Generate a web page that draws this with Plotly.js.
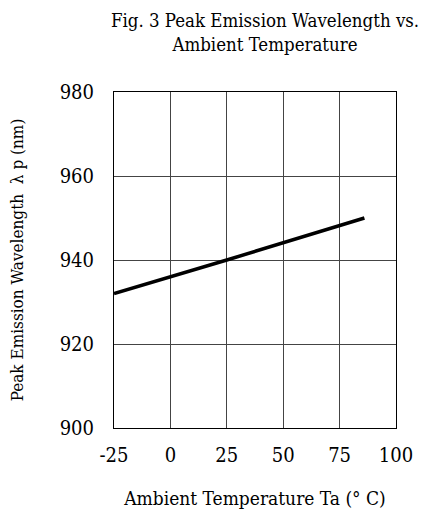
<!DOCTYPE html>
<html><head><meta charset="utf-8">
<script src="https://cdn.plot.ly/plotly-3.0.1.min.js"></script>
<style>html,body{margin:0;padding:0;background:#fff;}#chart{width:422px;height:515px;}</style>
</head><body><div id="chart"></div>
<script>
// Data
const temperatureC = [-25, 25, 86];
const peakWavelengthNm = [932, 940, 950];
const xTickVals = [-25, 0, 25, 50, 75, 100];
const yTickVals = [900, 920, 940, 960, 980];

const FONT = '"DejaVu Serif Condensed", "DejaVu Serif", serif';

const trace = {
  x: temperatureC, y: peakWavelengthNm, type: 'scatter', mode: 'lines',
  line: {color: '#000', width: 3.5}, hoverinfo: 'skip'
};

const layout = {
  width: 422, height: 515,
  margin: {l: 114, r: 26, t: 92, b: 87},
  paper_bgcolor: '#fff', plot_bgcolor: '#fff',
  showlegend: false,
  font: {family: FONT, color: '#000', size: 20},
  title: {
    text: 'Fig. 3 Peak Emission Wavelength vs.<br>Ambient Temperature',
    font: {family: FONT, size: 18.5, color: '#000'},
    x: 265/422, xref: 'container', xanchor: 'center',
    y: 1 - 27/515, yref: 'container', yanchor: 'middle'
  },
  xaxis: {
    range: [-25, 100], tickvals: xTickVals, ticktext: xTickVals.map(String),
    showgrid: true, gridcolor: '#444', gridwidth: 1,
    showline: true, linecolor: '#000', linewidth: 1, mirror: true,
    zeroline: false, ticks: 'outside', ticklen: 9, tickcolor: 'rgba(0,0,0,0)',
    tickfont: {family: FONT, size: 20, color: '#000'},
    title: {text: 'Ambient Temperature Ta (° C)', font: {family: FONT, size: 19, color: '#000'}, standoff: 25}
  },
  yaxis: {
    range: [900, 980], tickvals: yTickVals, ticktext: yTickVals.map(String),
    showgrid: true, gridcolor: '#444', gridwidth: 1,
    showline: true, linecolor: '#000', linewidth: 1, mirror: true,
    zeroline: false, ticks: 'outside', ticklen: 15, tickcolor: 'rgba(0,0,0,0)',
    tickfont: {family: FONT, size: 20, color: '#000'},
    title: {text: 'Peak Emission Wavelength  λ p (nm)', font: {family: FONT, size: 17, color: '#000'}, standoff: 31}
  }
};

Plotly.newPlot('chart', [trace], layout, {staticPlot: true, displayModeBar: false});
</script>
</body></html>
